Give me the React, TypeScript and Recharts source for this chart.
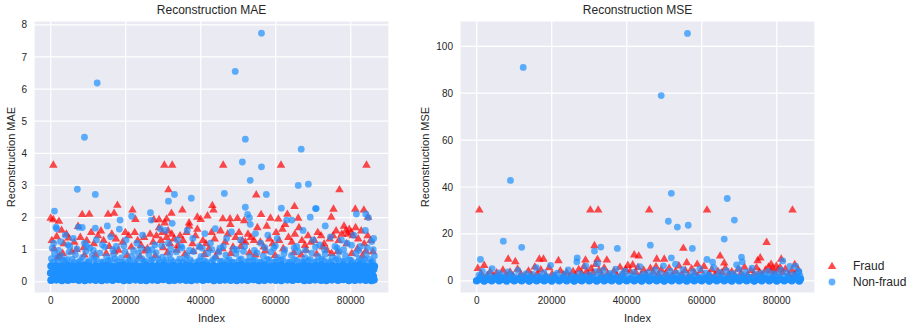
import { CartesianGrid, Scatter, ScatterChart, XAxis, YAxis } from "recharts";

// [index in thousands, reconstruction error]
type Pt = [number, number];

const indexTicks = [0, 20000, 40000, 60000, 80000];
const maeTicks = [0, 1, 2, 3, 4, 5, 6, 7, 8];
const mseTicks = [0, 20, 40, 60, 80, 100];

// ---- MAE panel ----
const maeFraud: Pt[] = [
  [0.7, 3.65], [30.3, 3.65], [32.4, 3.65], [46.0, 3.65], [61.4, 3.65], [84.2, 3.65],
  [31.4, 2.88], [77.0, 2.88], [54.8, 2.72], [65.0, 2.36], [43.1, 2.39], [43.4, 2.25], [17.8, 2.4],
  [35.1, 2.25], [21.8, 2.25], [75.4, 2.28], [81.2, 2.28], [83.5, 2.25], [16.9, 2.15], [15.3, 2.12],
  [8.4, 2.11], [10.3, 2.12], [32.2, 2.15], [56.1, 2.11], [63.1, 2.12], [0.0, 2.0], [0.7, 1.95],
  [2.2, 1.9], [22.6, 1.96], [27.5, 1.95], [28.9, 1.95], [30.9, 1.97], [39.1, 2.03], [40.0, 1.96],
  [41.8, 2.07], [45.9, 1.98], [47.8, 1.98], [49.8, 1.99], [51.6, 1.92], [58.6, 2.0], [60.7, 1.97],
  [66.0, 2.0], [74.8, 2.03], [84.6, 2.03], [7.3, 1.74], [36.9, 1.85],
  [0.3, 1.3], [0.9, 1.05], [1.6, 1.42], [2.4, 0.82], [2.9, 1.62], [3.5, 1.2], [4.2, 1.5], [4.8, 1.38],
  [5.6, 0.95], [6.3, 1.25], [7.9, 1.4], [8.8, 1.08], [9.6, 1.3], [10.8, 1.55], [11.5, 1.2],
  [12.6, 1.45], [13.4, 1.6], [14.1, 1.3], [15.6, 1.12], [16.3, 1.5], [17.4, 1.35], [18.1, 1.0],
  [19.2, 1.25], [19.9, 1.55], [20.8, 1.45], [21.5, 1.1], [22.4, 1.55], [23.2, 1.3], [24.1, 1.15],
  [24.9, 1.4], [25.8, 1.05], [26.5, 1.5], [27.3, 1.25], [28.2, 1.45], [28.9, 1.7], [29.4, 1.3],
  [29.8, 1.55], [30.4, 1.85], [30.9, 1.4], [31.3, 1.6], [31.8, 1.2], [32.3, 1.5], [32.9, 1.35],
  [33.6, 1.0], [34.5, 1.45], [35.3, 1.3], [36.2, 1.55], [36.9, 1.75], [37.8, 1.2], [38.6, 1.45],
  [39.1, 1.65], [39.8, 1.1], [40.6, 1.3], [41.4, 1.2], [42.2, 1.05], [42.9, 1.55], [43.7, 1.35],
  [44.6, 0.95], [45.3, 1.6], [46.5, 1.25], [47.2, 1.5], [47.9, 1.8], [48.6, 1.1], [49.3, 1.4],
  [50.2, 1.55], [51.1, 1.3], [51.9, 1.25], [52.6, 1.5], [53.4, 1.4], [54.2, 1.3], [55.1, 1.7],
  [55.9, 1.25], [56.8, 1.1], [57.6, 1.75], [58.3, 1.35], [59.2, 1.2], [60.1, 1.55], [60.9, 1.3],
  [61.8, 1.65], [62.5, 1.8], [63.4, 1.4], [64.3, 1.25], [65.1, 1.5], [66.2, 1.7], [67.0, 1.3],
  [67.8, 1.15], [68.6, 1.45], [69.4, 1.25], [70.3, 1.3], [71.2, 1.55], [72.1, 1.45], [72.9, 1.2],
  [73.7, 1.0], [74.4, 1.35], [75.3, 1.45], [76.1, 1.6], [76.8, 1.3], [77.6, 1.5], [78.2, 1.75],
  [78.7, 1.6], [79.2, 1.5], [79.6, 1.65], [80.1, 1.55], [80.6, 1.45], [81.3, 1.7], [82.0, 1.35],
  [82.8, 1.6], [83.6, 1.2], [84.5, 1.45], [85.3, 1.3],
  [1.9, 0.78], [9.0, 0.85], [14.8, 0.9], [23.8, 0.8], [35.8, 0.88], [44.0, 0.8], [53.0, 0.92],
  [66.8, 0.85], [74.9, 0.9], [83.1, 0.82], [85.9, 0.95],
  [3.2, 0.9], [6.9, 1.02], [11.9, 0.86], [17.0, 0.95], [20.4, 0.84], [25.1, 0.98], [27.9, 0.83],
  [30.0, 1.08], [31.1, 0.92], [33.9, 1.15], [38.0, 0.96], [41.0, 0.87], [45.8, 1.05], [48.0, 0.9],
  [50.7, 1.12], [54.6, 0.86], [57.2, 0.98], [59.8, 0.84], [62.0, 1.05], [64.8, 0.92], [68.1, 1.0],
  [70.9, 0.88], [72.6, 1.1], [76.5, 0.96], [78.9, 1.2], [80.3, 0.9], [81.8, 1.05], [84.0, 0.98],
];

// solid overplotted core near zero
const maeNonFraudCore: Pt[] = [
  [0.1, 0.05], [1.5, 0.06], [3.0, 0.04], [4.6, 0.05], [6.0, 0.07], [7.5, 0.05], [9.1, 0.04], [10.5, 0.06],
  [12.0, 0.05], [13.6, 0.04], [15.0, 0.06], [16.5, 0.05], [18.1, 0.07], [19.5, 0.04], [21.0, 0.05],
  [22.6, 0.06], [24.0, 0.05], [25.5, 0.04], [27.1, 0.06], [28.5, 0.05], [30.0, 0.07], [31.6, 0.04],
  [33.0, 0.05], [34.5, 0.06], [36.1, 0.05], [37.5, 0.04], [39.0, 0.06], [40.6, 0.05], [42.0, 0.07],
  [43.5, 0.04], [45.1, 0.05], [46.5, 0.06], [48.0, 0.05], [49.6, 0.04], [51.0, 0.06], [52.5, 0.05],
  [54.1, 0.07], [55.5, 0.04], [57.0, 0.05], [58.6, 0.06], [60.0, 0.05], [61.5, 0.04], [63.1, 0.06],
  [64.5, 0.05], [66.0, 0.07], [67.6, 0.04], [69.0, 0.05], [70.5, 0.06], [72.1, 0.05], [73.5, 0.04],
  [75.0, 0.06], [76.6, 0.05], [78.0, 0.07], [79.5, 0.04], [81.1, 0.05], [82.5, 0.06], [84.0, 0.05],
  [85.5, 0.04], [86.2, 0.06],
  [0.8, 0.16], [2.2, 0.17], [3.8, 0.15], [5.2, 0.16], [6.8, 0.17], [8.3, 0.16], [9.7, 0.15], [11.3, 0.17],
  [12.8, 0.16], [14.2, 0.17], [15.8, 0.15], [17.3, 0.16], [18.7, 0.17], [20.3, 0.16], [21.8, 0.15],
  [23.2, 0.17], [24.8, 0.16], [26.3, 0.17], [27.7, 0.15], [29.3, 0.16], [30.8, 0.17], [32.2, 0.16],
  [33.8, 0.15], [35.3, 0.17], [36.7, 0.16], [38.3, 0.17], [39.8, 0.15], [41.2, 0.16], [42.8, 0.17],
  [44.3, 0.16], [45.7, 0.15], [47.3, 0.17], [48.8, 0.16], [50.2, 0.17], [51.8, 0.15], [53.3, 0.16],
  [54.7, 0.17], [56.3, 0.16], [57.8, 0.15], [59.2, 0.17], [60.8, 0.16], [62.3, 0.17], [63.7, 0.15],
  [65.3, 0.16], [66.8, 0.17], [68.2, 0.16], [69.8, 0.15], [71.3, 0.17], [72.7, 0.16], [74.3, 0.17],
  [75.8, 0.15], [77.2, 0.16], [78.8, 0.17], [80.3, 0.16], [81.7, 0.15], [83.3, 0.17], [84.8, 0.16],
  [86.0, 0.17],
  [0.0, 0.27], [1.6, 0.28], [3.1, 0.26], [4.5, 0.27], [6.1, 0.28], [7.6, 0.27], [9.0, 0.26], [10.6, 0.28],
  [12.1, 0.27], [13.5, 0.28], [15.1, 0.26], [16.6, 0.27], [18.0, 0.28], [19.6, 0.27], [21.1, 0.26],
  [22.5, 0.28], [24.1, 0.27], [25.6, 0.28], [27.0, 0.26], [28.6, 0.27], [30.1, 0.28], [31.5, 0.27],
  [33.1, 0.26], [34.6, 0.28], [36.0, 0.27], [37.6, 0.28], [39.1, 0.26], [40.5, 0.27], [42.1, 0.28],
  [43.6, 0.27], [45.0, 0.26], [46.6, 0.28], [48.1, 0.27], [49.5, 0.28], [51.1, 0.26], [52.6, 0.27],
  [54.0, 0.28], [55.6, 0.27], [57.1, 0.26], [58.5, 0.28], [60.1, 0.27], [61.6, 0.28], [63.0, 0.26],
  [64.6, 0.27], [66.1, 0.28], [67.5, 0.27], [69.1, 0.26], [70.6, 0.28], [72.0, 0.27], [73.6, 0.28],
  [75.1, 0.26], [76.5, 0.27], [78.1, 0.28], [79.6, 0.27], [81.0, 0.26], [82.6, 0.28], [84.1, 0.27],
  [85.6, 0.28],
  [0.7, 0.38], [2.3, 0.39], [3.7, 0.37], [5.3, 0.38], [6.7, 0.39], [8.2, 0.38], [9.8, 0.37], [11.2, 0.39],
  [12.7, 0.38], [14.3, 0.39], [15.7, 0.37], [17.2, 0.38], [18.8, 0.39], [20.2, 0.38], [21.7, 0.37],
  [23.3, 0.39], [24.7, 0.38], [26.2, 0.39], [27.8, 0.37], [29.2, 0.38], [30.7, 0.39], [32.3, 0.38],
  [33.7, 0.37], [35.2, 0.39], [36.8, 0.38], [38.2, 0.39], [39.7, 0.37], [41.3, 0.38], [42.7, 0.39],
  [44.2, 0.38], [45.8, 0.37], [47.2, 0.39], [48.7, 0.38], [50.3, 0.39], [51.7, 0.37], [53.2, 0.38],
  [54.8, 0.39], [56.2, 0.38], [57.7, 0.37], [59.3, 0.39], [60.7, 0.38], [62.2, 0.39], [63.8, 0.37],
  [65.2, 0.38], [66.7, 0.39], [68.3, 0.38], [69.7, 0.37], [71.2, 0.39], [72.8, 0.38], [74.2, 0.39],
  [75.7, 0.37], [77.3, 0.38], [78.7, 0.39], [80.2, 0.38], [81.8, 0.37], [83.2, 0.39], [84.7, 0.38],
  [86.1, 0.39],
  [0.1, 0.49], [1.4, 0.5], [3.0, 0.48], [4.6, 0.51], [5.9, 0.49], [7.5, 0.5], [9.1, 0.52], [10.4, 0.48],
  [12.0, 0.5], [13.6, 0.49], [14.9, 0.51], [16.5, 0.48], [18.1, 0.5], [19.4, 0.52], [21.0, 0.49],
  [22.6, 0.5], [23.9, 0.48], [25.5, 0.51], [27.1, 0.49], [28.4, 0.5], [30.0, 0.52], [31.6, 0.48],
  [32.9, 0.5], [34.5, 0.49], [36.1, 0.51], [37.4, 0.48], [39.0, 0.5], [40.6, 0.52], [41.9, 0.49],
  [43.5, 0.5], [45.1, 0.48], [46.4, 0.51], [48.0, 0.49], [49.6, 0.5], [50.9, 0.52], [52.5, 0.48],
  [54.1, 0.5], [55.4, 0.49], [57.0, 0.51], [58.6, 0.48], [59.9, 0.5], [61.5, 0.52], [63.1, 0.49],
  [64.4, 0.5], [66.0, 0.48], [67.6, 0.51], [68.9, 0.49], [70.5, 0.5], [72.1, 0.52], [73.4, 0.48],
  [75.0, 0.5], [76.6, 0.49], [77.9, 0.51], [79.5, 0.48], [81.1, 0.5], [82.4, 0.52], [84.0, 0.49],
  [85.6, 0.5], [86.3, 0.48],
];

const maeNonFraud: Pt[] = [
  [0.2, 0.72], [1.0, 0.88], [2.0, 0.62], [2.9, 0.8], [3.8, 0.66], [4.9, 0.92], [5.7, 0.7], [6.6, 0.84],
  [7.4, 0.6], [8.5, 0.76], [9.4, 0.95], [10.2, 0.64], [11.1, 0.82], [12.2, 0.7], [13.1, 0.9], [14.0, 0.62],
  [14.9, 0.78], [15.9, 0.68], [16.8, 0.86], [17.7, 0.63], [18.9, 0.74], [19.8, 0.93], [20.7, 0.66],
  [21.6, 0.8], [22.5, 0.6], [23.4, 0.88], [24.3, 0.72], [25.2, 0.64], [26.2, 0.84], [27.1, 0.69],
  [28.1, 0.91], [29.0, 0.61], [29.8, 0.77], [30.8, 0.67], [31.7, 0.85], [32.6, 0.63], [33.5, 0.93],
  [34.4, 0.71], [35.4, 0.6], [36.3, 0.82], [37.2, 0.68], [38.1, 0.94], [39.2, 0.62], [40.1, 0.79],
  [41.0, 0.66], [41.9, 0.89], [42.8, 0.61], [43.9, 0.75], [44.8, 0.92], [45.6, 0.64], [46.7, 0.83],
  [47.6, 0.7], [48.4, 0.6], [49.4, 0.87], [50.3, 0.68], [51.4, 0.95], [52.2, 0.63], [53.1, 0.78],
  [54.0, 0.66], [55.0, 0.9], [55.9, 0.61], [56.7, 0.8], [57.8, 0.7], [58.7, 0.93], [59.6, 0.62],
  [60.5, 0.76], [61.4, 0.67], [62.2, 0.88], [63.3, 0.6], [64.2, 0.82], [65.0, 0.69], [66.0, 0.94],
  [66.9, 0.63], [67.8, 0.75], [68.7, 0.66], [69.6, 0.9], [70.4, 0.61], [71.3, 0.79], [72.3, 0.7],
  [73.2, 0.86], [74.1, 0.62], [75.0, 0.77], [76.0, 0.68], [76.9, 0.92], [77.8, 0.64], [78.6, 0.81],
  [79.6, 0.69], [80.5, 0.6], [81.4, 0.88], [82.3, 0.72], [83.2, 0.63], [84.1, 0.85], [85.0, 0.7],
  [85.9, 0.62], [86.3, 0.8],
  [0.6, 0.6], [1.8, 0.74], [3.3, 0.62], [4.4, 0.7], [6.2, 0.6], [7.9, 0.66], [9.9, 0.61], [11.6, 0.68],
  [13.5, 0.6], [15.4, 0.65], [17.2, 0.71], [19.2, 0.6], [21.1, 0.64], [23.0, 0.7], [24.8, 0.61],
  [26.7, 0.66], [28.6, 0.72], [30.3, 0.6], [32.1, 0.68], [34.0, 0.62], [35.9, 0.7], [37.7, 0.61],
  [39.6, 0.66], [41.5, 0.6], [43.3, 0.69], [45.2, 0.62], [47.1, 0.66], [48.9, 0.6], [50.8, 0.71],
  [52.7, 0.62], [54.5, 0.67], [56.3, 0.6], [58.2, 0.68], [60.0, 0.62], [61.9, 0.7], [63.8, 0.61],
  [65.6, 0.66], [67.4, 0.6], [69.2, 0.7], [71.0, 0.63], [72.8, 0.66], [74.6, 0.6], [76.5, 0.72],
  [78.2, 0.61], [80.0, 0.67], [81.9, 0.62], [83.7, 0.69], [85.4, 0.6],
  [0.8, 1.2], [2.1, 0.98], [4.6, 1.15], [7.0, 1.02], [9.6, 1.12], [11.4, 0.98], [14.4, 1.08],
  [16.6, 1.0], [19.5, 1.12], [22.1, 0.98], [24.0, 1.05], [27.0, 1.0], [29.6, 1.12], [32.0, 1.02],
  [34.8, 1.1], [37.0, 0.98], [40.4, 1.04], [43.0, 1.0], [46.0, 1.1], [48.8, 1.02], [51.7, 1.1],
  [54.3, 0.98], [57.1, 1.06], [59.9, 1.12], [62.4, 1.0], [64.9, 1.05], [67.9, 0.98], [70.6, 1.08],
  [73.0, 1.0], [75.8, 1.1], [78.1, 1.0], [80.2, 1.14], [82.1, 0.98], [84.4, 1.06], [86.0, 1.0],
  [0.4, 1.05], [1.4, 1.7], [1.6, 1.65], [2.6, 1.25], [3.9, 1.45], [5.1, 1.1], [6.0, 1.35], [7.4, 1.7],
  [8.4, 1.69], [9.0, 1.2], [10.4, 1.05], [11.9, 1.67], [12.2, 1.3], [13.8, 1.15], [15.1, 1.74],
  [16.0, 1.4], [17.5, 1.1], [18.5, 1.92], [18.3, 1.64], [20.1, 1.3], [21.6, 2.04], [23.0, 1.2],
  [24.5, 1.45], [25.9, 1.0], [26.8, 1.92], [27.8, 1.15], [29.2, 1.65], [30.6, 1.6], [31.4, 1.2],
  [32.4, 1.82], [33.8, 1.3], [35.0, 1.05], [36.4, 1.6], [37.9, 1.35], [39.6, 1.1], [41.1, 1.5],
  [42.6, 1.2], [43.9, 1.65], [45.1, 1.05], [46.9, 1.35], [48.2, 1.55], [49.6, 1.0], [50.6, 1.3],
  [52.5, 2.1], [53.0, 1.99], [53.2, 1.79], [54.6, 1.5], [56.0, 1.2], [57.9, 1.45], [59.5, 1.05],
  [60.4, 1.35], [62.9, 1.92], [64.3, 1.92], [65.6, 1.1], [67.3, 1.6], [69.2, 2.01], [70.0, 1.3],
  [71.7, 1.15], [73.2, 1.74], [74.6, 1.4], [76.4, 1.05], [77.5, 1.3], [79.0, 1.2], [80.8, 1.45],
  [81.5, 2.11], [82.6, 1.1], [83.9, 1.6], [84.7, 2.0], [85.6, 1.25], [86.1, 1.35],
  [56.2, 7.74], [49.2, 6.55], [12.4, 6.19], [9.0, 4.5], [51.9, 4.44], [66.8, 4.13], [51.1, 3.73],
  [56.2, 3.58], [53.2, 3.16], [66.0, 3.0], [68.7, 3.04], [7.1, 2.88], [11.9, 2.72], [31.4, 2.51],
  [33.0, 2.72], [37.5, 2.6], [46.3, 2.75], [57.5, 2.72], [51.9, 2.32], [61.5, 2.29], [70.6, 2.28],
  [70.8, 2.28], [1.0, 2.2], [26.6, 2.15], [84.0, 2.11],
];

// ---- MSE panel ----
const mseFraud: Pt[] = [
  [0.7, 30.4], [30.3, 30.4], [32.4, 30.4], [46.0, 30.4], [61.4, 30.4], [84.2, 30.4],
  [31.4, 15.2], [55.1, 14.1], [77.3, 16.6], [42.0, 11.3], [43.2, 10.8], [64.9, 10.8], [8.4, 9.5],
  [10.3, 8.4], [16.7, 9.5], [17.8, 9.5], [21.8, 8.8], [29.0, 9.1], [32.2, 9.3], [34.7, 9.1],
  [48.0, 9.5], [50.0, 9.5], [56.0, 8.0], [58.8, 7.3], [66.0, 7.8], [75.6, 10.0], [74.9, 8.8],
  [78.5, 7.3], [81.2, 9.5], [84.8, 7.1],
  [0.3, 5.5], [1.2, 3.2], [2.0, 6.8], [2.8, 2.4], [3.6, 4.1], [4.5, 2.0], [5.3, 3.6], [6.2, 1.8],
  [7.0, 4.8], [7.8, 2.6], [8.9, 3.9], [9.7, 2.2], [10.9, 5.2], [11.8, 3.0], [12.9, 1.9], [13.8, 4.4],
  [14.6, 2.7], [15.5, 6.1], [16.2, 3.3], [17.1, 4.9], [18.4, 2.5], [19.3, 5.8], [20.1, 3.1],
  [21.0, 2.0], [22.3, 4.5], [23.1, 2.8], [24.0, 3.7], [24.8, 1.9], [25.7, 4.2], [26.4, 2.4],
  [27.2, 5.0], [28.0, 3.4], [28.6, 6.3], [29.3, 4.1], [29.9, 2.7], [30.5, 5.4], [31.0, 3.6],
  [31.7, 7.2], [32.6, 4.6], [33.3, 2.9], [34.0, 5.7], [34.9, 3.2], [35.7, 2.1], [36.6, 4.4],
  [37.4, 2.6], [38.2, 6.0], [39.0, 3.5], [39.7, 5.1], [40.3, 6.8], [40.9, 4.3], [41.6, 7.0],
  [42.4, 3.8], [43.0, 5.9], [43.8, 2.6], [44.5, 4.8], [45.2, 3.1], [46.3, 5.5], [47.1, 3.9],
  [47.8, 6.2], [48.5, 2.8], [49.2, 4.9], [50.4, 3.3], [51.3, 5.6], [52.1, 2.5], [53.0, 4.2],
  [53.9, 6.6], [54.7, 3.0], [55.6, 4.7], [56.5, 2.3], [57.3, 5.3], [58.1, 3.6], [59.0, 2.0],
  [59.8, 4.5], [60.6, 6.4], [61.9, 3.2], [62.7, 5.0], [63.5, 2.6], [64.3, 4.3], [65.4, 3.7],
  [66.3, 5.6], [67.2, 2.9], [68.0, 4.1], [68.9, 2.2], [69.7, 5.2], [70.5, 3.4], [71.4, 6.0],
  [72.2, 2.7], [73.1, 4.6], [73.9, 3.1], [74.6, 5.8], [75.4, 3.9], [76.2, 2.4], [77.0, 4.8],
  [77.8, 6.1], [78.4, 4.4], [78.9, 5.6], [79.4, 3.6], [79.9, 6.5], [80.4, 4.9], [80.9, 5.9],
  [81.5, 3.8], [82.3, 5.2], [83.2, 2.8], [84.0, 4.5], [84.9, 3.3], [85.7, 5.0],
];

const mseNonFraudCore: Pt[] = [
  [0.0, 0.0], [2.0, -0.1], [4.0, 0.05], [6.0, 0.0], [8.0, -0.05], [10.0, 0.05], [12.0, 0.0], [14.0, -0.1],
  [16.0, 0.05], [18.0, 0.0], [20.0, -0.05], [22.0, 0.05], [24.0, 0.0], [26.0, -0.1], [28.0, 0.05],
  [30.0, 0.0], [32.0, -0.05], [34.0, 0.05], [36.0, 0.0], [38.0, -0.1], [40.0, 0.05], [42.0, 0.0],
  [44.0, -0.05], [46.0, 0.05], [48.0, 0.0], [50.0, -0.1], [52.0, 0.05], [54.0, 0.0], [56.0, -0.05],
  [58.0, 0.05], [60.0, 0.0], [62.0, -0.1], [64.0, 0.05], [66.0, 0.0], [68.0, -0.05], [70.0, 0.05],
  [72.0, 0.0], [74.0, -0.1], [76.0, 0.05], [78.0, 0.0], [80.0, -0.05], [82.0, 0.05], [84.0, 0.0],
  [86.0, -0.05],
  [1.0, 0.8], [3.0, 0.75], [5.0, 0.85], [7.0, 0.7], [9.0, 0.8], [11.0, 0.75], [13.0, 0.85], [15.0, 0.75],
  [17.0, 0.7], [19.0, 0.8], [21.0, 0.85], [23.0, 0.75], [25.0, 0.8], [27.0, 0.7], [29.0, 0.85],
  [31.0, 0.75], [33.0, 0.8], [35.0, 0.75], [37.0, 0.85], [39.0, 0.7], [41.0, 0.8], [43.0, 0.75],
  [45.0, 0.85], [47.0, 0.75], [49.0, 0.7], [51.0, 0.8], [53.0, 0.85], [55.0, 0.75], [57.0, 0.8],
  [59.0, 0.7], [61.0, 0.85], [63.0, 0.75], [65.0, 0.8], [67.0, 0.75], [69.0, 0.85], [71.0, 0.7],
  [73.0, 0.8], [75.0, 0.75], [77.0, 0.85], [79.0, 0.75], [81.0, 0.7], [83.0, 0.8], [85.0, 0.85],
  [86.3, 0.75],
];

const mseNonFraud: Pt[] = [
  [0.6, 2.4], [1.5, 4.0], [2.4, 1.6], [3.3, 2.9], [4.1, 5.2], [5.0, 1.9], [5.9, 3.4], [6.7, 2.2],
  [7.5, 1.5], [8.3, 3.8], [9.2, 2.6], [10.1, 1.7], [11.0, 4.4], [12.3, 2.1], [13.2, 3.1], [14.1, 1.6],
  [15.0, 2.7], [15.9, 5.6], [16.8, 2.0], [17.9, 3.5], [18.8, 1.8], [19.7, 6.6], [20.6, 2.4],
  [21.5, 3.3], [22.7, 1.6], [23.6, 2.9], [24.4, 4.6], [25.3, 2.2], [26.1, 1.7], [27.5, 3.0],
  [28.3, 2.0], [29.1, 6.2], [30.0, 2.6], [30.7, 1.8], [31.9, 3.9], [32.9, 2.3], [33.7, 4.5],
  [34.6, 1.9], [35.5, 3.2], [36.3, 2.5], [37.1, 5.0], [38.0, 1.7], [38.8, 2.9], [39.5, 4.1],
  [40.7, 2.1], [41.9, 3.6], [42.7, 1.6], [43.5, 6.0], [44.3, 2.8], [45.0, 1.9], [45.8, 3.5],
  [46.9, 2.3], [47.6, 4.6], [48.3, 1.8], [49.0, 3.0], [49.8, 6.4], [50.7, 2.5], [51.6, 4.1],
  [52.4, 1.7], [53.3, 3.3], [54.2, 2.1], [55.0, 4.8], [55.8, 2.7], [56.9, 1.6], [57.7, 3.9],
  [58.6, 2.2], [59.5, 5.1], [60.3, 1.9], [61.1, 3.4], [62.0, 2.4], [63.2, 5.7], [64.0, 2.0],
  [64.8, 3.6], [65.7, 1.7], [66.6, 4.3], [67.5, 2.6], [68.4, 3.1], [69.2, 1.8], [70.0, 4.9],
  [70.9, 2.3], [71.8, 3.7], [72.6, 1.6], [73.4, 5.4], [74.3, 2.8], [75.2, 1.9], [76.0, 3.3],
  [76.9, 2.2], [77.7, 4.0], [78.6, 1.7], [79.3, 3.1], [80.1, 2.4], [81.0, 4.6], [81.8, 2.0],
  [82.7, 3.5], [83.5, 6.1], [84.3, 2.6], [85.1, 1.8], [85.8, 3.7], [86.2, 2.1],
  [1.1, 1.4], [3.9, 1.2], [6.3, 1.5], [8.8, 1.3], [11.5, 1.4], [13.7, 1.2], [16.3, 1.5], [18.3, 1.3],
  [20.9, 1.2], [23.2, 1.4], [25.7, 1.3], [28.7, 1.5], [31.3, 1.2], [34.1, 1.4], [36.8, 1.3],
  [39.1, 1.5], [41.4, 1.2], [44.0, 1.4], [46.4, 1.3], [49.4, 1.2], [52.0, 1.5], [54.6, 1.3],
  [57.3, 1.4], [59.9, 1.2], [62.5, 1.5], [65.2, 1.3], [67.8, 1.2], [70.4, 1.4], [73.0, 1.3],
  [75.6, 1.5], [78.2, 1.2], [80.6, 1.4], [83.0, 1.3], [85.5, 1.2],
  [56.2, 105.5], [12.4, 91.0], [49.2, 79.0], [9.0, 42.8], [51.9, 37.3], [66.8, 35.1], [68.7, 25.9],
  [51.1, 25.4], [53.5, 22.9], [56.4, 23.7], [7.1, 16.9], [66.0, 17.8], [12.0, 14.3], [46.3, 15.2],
  [31.4, 12.7], [33.1, 14.4], [37.5, 13.8], [57.5, 13.8], [1.0, 9.1], [26.8, 9.8], [26.7, 8.1],
  [32.2, 7.4], [51.9, 9.8], [53.0, 7.1], [61.4, 9.1], [62.9, 8.0], [70.6, 10.1], [70.8, 8.1],
  [69.3, 6.8], [81.6, 8.5], [85.0, 6.2], [85.9, 4.0],
];

const rows = (pts: Pt[]) => pts.map(([k, v]) => ({ x: k * 1000, y: v }));

const RED = "#ff0000";
const BLUE = "#1e90ff";
const INK = "#262626";
const FONT = "'Liberation Sans', Arial, sans-serif";

const tri = (p: any) => (
  <polygon
    points={`${p.cx},${p.cy - 4.3} ${p.cx - 4.3},${p.cy + 3.1} ${p.cx + 4.3},${p.cy + 3.1}`}
    fill={RED}
    fillOpacity={0.7}
  />
);
const dot = (p: any) => <circle cx={p.cx} cy={p.cy} r={3.4} fill={BLUE} fillOpacity={0.7} />;
// overplotted core: opaque, with a thin stroke so neighbours merge without seams
const solidDot = (p: any) => (
  <circle cx={p.cx} cy={p.cy} r={3.2} fill={BLUE} stroke={BLUE} strokeWidth={1.2} />
);

type PanelProps = {
  left: number;
  width: number;
  axisW: number;
  right: number;
  ylabel: string;
  yDomain: [number, number];
  yTicks: number[];
  fraud: Pt[];
  core: Pt[];
  nonFraud: Pt[];
};

function Panel(p: PanelProps) {
  const tick = { fontSize: 10, fill: INK, fontFamily: FONT };
  return (
    <div style={{ position: "absolute", left: p.left, top: 0 }}>
      <ScatterChart width={p.width} height={330} margin={{ top: 21, right: p.right, bottom: 0, left: 0 }}>
        <CartesianGrid fill="#eaeaf2" stroke="#ffffff" strokeWidth={1.2} />
        <XAxis
          type="number"
          dataKey="x"
          domain={[-4450, 90200]}
          ticks={indexTicks}
          allowDataOverflow
          axisLine={false}
          tickLine={false}
          tickSize={0}
          tickMargin={4}
          height={37}
          tick={tick}
          label={{ value: "Index", position: "insideBottom", offset: 8, style: { fontSize: 11, fill: INK, fontFamily: FONT } }}
        />
        <YAxis
          type="number"
          dataKey="y"
          domain={p.yDomain}
          ticks={p.yTicks}
          allowDataOverflow
          axisLine={false}
          tickLine={false}
          tickSize={0}
          tickMargin={7}
          width={p.axisW}
          tick={tick}
          label={{
            value: p.ylabel,
            angle: -90,
            position: "insideLeft",
            offset: 11,
            style: { fontSize: 11, fill: INK, fontFamily: FONT, textAnchor: "middle" },
          }}
        />
        <Scatter name="Fraud" data={rows(p.fraud)} shape={tri} isAnimationActive={false} />
        <Scatter name="Non-fraud core" data={rows(p.core)} shape={solidDot} isAnimationActive={false} />
        <Scatter name="Non-fraud" data={rows(p.nonFraud)} shape={dot} isAnimationActive={false} />
      </ScatterChart>
    </div>
  );
}

const titleStyle = (cx: number) => ({
  position: "absolute" as const,
  left: cx - 100,
  top: 3,
  width: 200,
  textAlign: "center" as const,
  fontSize: 12,
  color: INK,
  fontFamily: FONT,
});

export default function App() {
  return (
    <div style={{ position: "absolute", left: 0, top: 0, width: 918, height: 330, background: "#fff", fontFamily: FONT }}>
      <Panel
        left={0}
        width={400}
        axisW={34}
        right={11}
        ylabel="Reconstruction MAE"
        yDomain={[-0.35, 8.12]}
        yTicks={maeTicks}
        fraud={maeFraud}
        core={maeNonFraudCore}
        nonFraud={maeNonFraud}
      />
      <Panel
        left={414}
        width={406}
        axisW={46}
        right={5}
        ylabel="Reconstruction MSE"
        yDomain={[-5.2, 110.8]}
        yTicks={mseTicks}
        fraud={mseFraud}
        core={mseNonFraudCore}
        nonFraud={mseNonFraud}
      />
      <div style={titleStyle(211.5)}>Reconstruction MAE</div>
      <div style={titleStyle(637.5)}>Reconstruction MSE</div>
      <div style={{ position: "absolute", left: 826, top: 258, fontSize: 12, color: INK, lineHeight: "16px" }}>
        <div style={{ display: "flex", alignItems: "center" }}>
          <svg width={14} height={16}>
            <polygon points="6,3.7 1.7,11.1 10.3,11.1" fill={RED} fillOpacity={0.7} />
          </svg>
          <span style={{ marginLeft: 13 }}>Fraud</span>
        </div>
        <div style={{ display: "flex", alignItems: "center" }}>
          <svg width={14} height={16}>
            <circle cx={6} cy={8} r={3.4} fill={BLUE} fillOpacity={0.7} />
          </svg>
          <span style={{ marginLeft: 13 }}>Non-fraud</span>
        </div>
      </div>
    </div>
  );
}
